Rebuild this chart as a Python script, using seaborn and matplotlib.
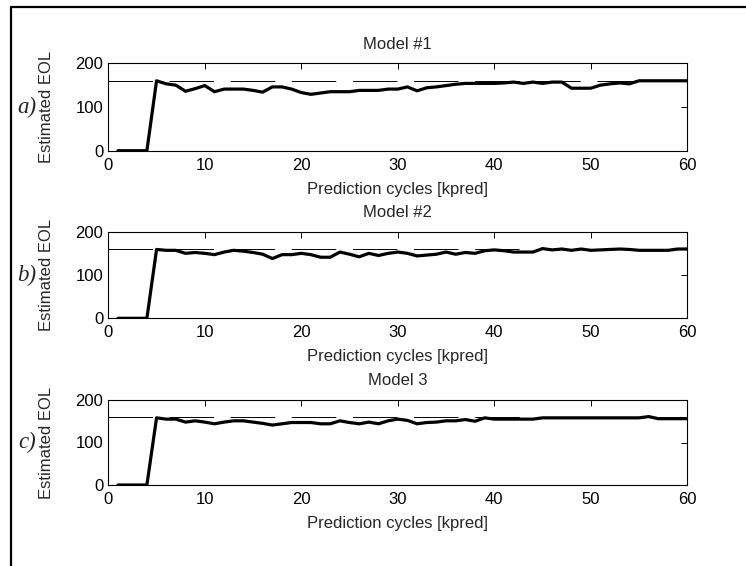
import numpy as np
import pandas as pd
import matplotlib
matplotlib.use("Agg")
import matplotlib.pyplot as plt
import seaborn as sns
from matplotlib.lines import Line2D

# Prediction cycle index
cycles = list(range(1, 61))

# Estimated end-of-life for each model at every prediction cycle
eol_model1 = [0, 0, 0, 0, 160, 153, 150, 136, 142, 149,
              135, 141, 141, 141, 138, 134, 146, 146, 141, 133,
              129, 132, 135, 135, 135, 138, 138, 138, 141, 141,
              146, 137, 144, 146, 149, 152, 154, 154, 154, 154,
              155, 157, 154, 157, 154, 157, 157, 143, 143, 143,
              150, 153, 155, 153, 160, 160, 160, 160, 160, 160]

eol_model2 = [0, 0, 0, 0, 159, 157, 157, 150, 152, 150,
              147, 153, 157, 155, 152, 148, 138, 147, 147, 150,
              147, 141, 141, 153, 148, 142, 150, 145, 150, 153,
              150, 144, 146, 148, 153, 148, 152, 150, 156, 158,
              156, 153, 153, 153, 161, 158, 160, 157, 160, 157,
              158, 159, 160, 159, 157, 157, 157, 157, 160, 160]

eol_model3 = [0, 0, 0, 0, 158, 155, 155, 148, 151, 148,
              144, 148, 151, 151, 148, 145, 141, 144, 147, 147,
              147, 144, 144, 151, 147, 144, 148, 144, 151, 155,
              152, 144, 147, 148, 151, 151, 154, 150, 158, 155,
              155, 155, 155, 155, 158, 158, 158, 158, 158, 158,
              158, 158, 158, 158, 158, 161, 156, 156, 156, 156]

true_eol = 160
titles = ["Model #1", "Model #2", "Model 3"]
panel_tags = ["a)", "b)", "c)"]
series = [eol_model1, eol_model2, eol_model3]

sns.set_style("white")
plt.rcParams["font.family"] = ["Liberation Sans", "DejaVu Sans"]
plt.rcParams["lines.scale_dashes"] = False

fig = plt.figure(figsize=(7.46, 5.66), dpi=100)
W, H = 746, 566

# Axes boxes in pixels: (left, top, right, bottom)
boxes = [(108.3, 63.3, 687.3, 150.7),
         (108.3, 231.7, 687.3, 318.3),
         (108.3, 400.0, 687.3, 485.0)]

for (l, t, r, b), title, tag, vals in zip(boxes, titles, panel_tags, series):
    ax = fig.add_axes([l / W, 1 - b / H, (r - l) / W, (b - t) / H])
    df = pd.DataFrame({"cycle": cycles, "eol": vals})
    sns.lineplot(data=df, x="cycle", y="eol", ax=ax, color="black",
                 linewidth=2.3, zorder=3)
    ax.plot([0, 60], [true_eol, true_eol], color="black", linewidth=0.7,
            dashes=(32, 12), zorder=2)
    ax.set_xlim(0, 60)
    ax.set_ylim(0, 200)
    ax.set_xticks(range(0, 61, 10))
    ax.set_yticks([0, 100, 200])
    ax.tick_params(direction="in", length=4.5, width=0.7, top=True, right=True,
                   labelsize=12, colors="black")
    ax.tick_params(axis="y", pad=3.5)
    ax.tick_params(axis="x", pad=5)
    for sp in ax.spines.values():
        sp.set_visible(True)
        sp.set_color("black")
        sp.set_linewidth(0.8)
    ax.set_title(title, fontsize=12, pad=10.5)
    ax.set_xlabel("Prediction cycles [kpred]", fontsize=12, labelpad=6.5)
    ax.set_ylabel("Estimated EOL", fontsize=12)
    ax.yaxis.set_label_coords(-0.094, 0.5)
    ax.set_facecolor("white")
    ycen = 1 - ((t + b) / 2) / H
    fig.text(27 / W, ycen, tag, fontsize=16.5, family="Liberation Serif",
             style="italic", ha="center", va="center")

# Outer frame lines (left and top)
fig.add_artist(Line2D([10.7 / W, 10.7 / W], [0, 1 - 7.3 / H],
                      transform=fig.transFigure, color="black", linewidth=1.6))
fig.add_artist(Line2D([10.7 / W, 1], [1 - 7.3 / H, 1 - 7.3 / H],
                      transform=fig.transFigure, color="black", linewidth=1.6))

fig.savefig("out.png", dpi=100, facecolor="white")
